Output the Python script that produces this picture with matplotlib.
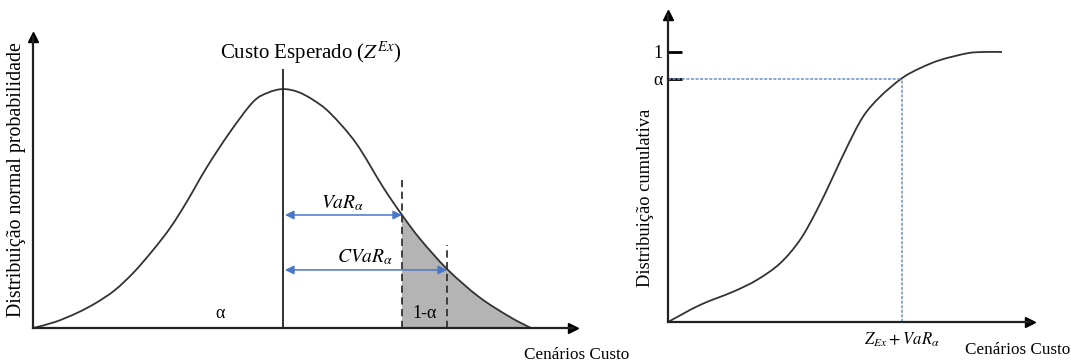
import matplotlib
matplotlib.use("Agg")
import matplotlib.pyplot as plt
from matplotlib.path import Path
from matplotlib.patches import PathPatch
import numpy as np

plt.rcParams['font.family'] = ['Liberation Serif', 'DejaVu Serif']
plt.rcParams['mathtext.fontset'] = 'stix'

W, H = 1071, 363

# ---- Left panel data (cost scenario x, normalised density y) ----
pdf_x = [0, 22, 44, 63, 82, 101, 120, 137, 153, 174, 197, 220, 235, 250, 265, 280,
         297, 323, 350, 369, 388, 415, 446, 477, 498]
pdf_y = [0.0, 0.025, 0.063, 0.105, 0.159, 0.234, 0.326, 0.418, 0.523, 0.674,
         0.820, 0.946, 0.985, 1.0, 0.988, 0.955, 0.900, 0.774, 0.590, 0.473,
         0.368, 0.243, 0.130, 0.046, 0.0]
mean_x = 250
var_x = 369
cvar_x = 414
var_y = 0.473
cvar_y = 0.243
var_line_top = 0.628
cvar_line_top = 0.347
mean_line_top = 1.084

# ---- Right panel data (cumulative distribution) ----
cdf_x = [0, 32, 65, 89, 112, 132, 149, 165, 179, 195, 212, 234, 252, 272, 299, 315, 334]
cdf_y = [0.0, 0.063, 0.112, 0.156, 0.217, 0.304, 0.415, 0.538, 0.648, 0.760,
         0.834, 0.903, 0.940, 0.970, 0.995, 1.0, 1.0]
alpha_level = 0.9
ytick_labels = ['α', '1']

fig = plt.figure(figsize=(W / 100, H / 100), dpi=100)


def smooth_path(xs, ys, closed_bottom=False):
    """Catmull-Rom curve through the read points, drawn as cubic Bezier segments."""
    p = np.column_stack([xs, ys]).astype(float)
    n = len(p)
    verts = [p[0]]
    codes = [Path.MOVETO]
    for i in range(n - 1):
        p0 = p[i - 1] if i > 0 else p[i]
        p1, p2 = p[i], p[i + 1]
        p3 = p[i + 2] if i + 2 < n else p[i + 1]
        c1 = p1 + (p2 - p0) / 6.0
        c2 = p2 - (p3 - p1) / 6.0
        verts += [c1, c2, p2]
        codes += [Path.CURVE4] * 3
    if closed_bottom:
        verts += [(xs[-1], 0), (xs[0], 0), (xs[0], 0)]
        codes += [Path.LINETO, Path.LINETO, Path.CLOSEPOLY]
    return Path(verts, codes)


def px_axes(x0, x1, ytop, ybot):
    return fig.add_axes([x0 / W, 1 - ybot / H, (x1 - x0) / W, (ybot - ytop) / H])


def style_axes(ax):
    for s in ['top', 'right']:
        ax.spines[s].set_visible(False)
    for s in ['left', 'bottom']:
        ax.spines[s].set_linewidth(1.6)
        ax.spines[s].set_color('#222222')
    ax.plot(1, 0, '>', color='black', ms=7, transform=ax.transAxes, clip_on=False)
    ax.plot(0, 1, '^', color='black', ms=7, transform=ax.transAxes, clip_on=False)
    ax.set_xticks([])


# Left axes
axL = px_axes(33, 573, 37, 328)
style_axes(axL)
axL.set_yticks([])
axL.set_xlim(0, 540)
axL.set_ylim(0, 1.218)
tx = [x for x in pdf_x if x >= var_x]
ty = [y for x, y in zip(pdf_x, pdf_y) if x >= var_x]
axL.add_patch(PathPatch(smooth_path(tx, ty, closed_bottom=True),
                        facecolor='#b4b4b4', edgecolor='none', lw=0))
axL.add_patch(PathPatch(smooth_path(pdf_x, pdf_y), facecolor='none',
                        edgecolor='#333333', lw=1.3, clip_on=False))
axL.vlines(mean_x, 0, mean_line_top, color='#222222', lw=1.3)
axL.vlines(var_x, 0, var_line_top, color='#333333', lw=1.3, linestyles=(0, (4, 2.5)))
axL.vlines(cvar_x, 0, cvar_line_top, color='#333333', lw=1.3, linestyles=(0, (4, 2.5)))
blue = '#4a78c8'
for xe, ye in [(var_x, var_y), (cvar_x, cvar_y)]:
    axL.annotate('', xy=(xe, ye), xytext=(mean_x + 2, ye),
                 arrowprops=dict(arrowstyle='<|-|>', color=blue, lw=1.1,
                                 mutation_scale=13, shrinkA=0, shrinkB=0))

# Right axes
axR = px_axes(668, 1030, 15, 322)
style_axes(axR)
axR.set_xlim(0, 362)
axR.set_ylim(0, 1.137)
axR.set_yticks([alpha_level, 1])
axR.set_yticklabels(ytick_labels, fontsize=13)
axR.tick_params(axis='y', direction='in', length=10, width=2, pad=4, colors='black')
axR.add_patch(PathPatch(smooth_path(cdf_x, cdf_y), facecolor='none',
                        edgecolor='#333333', lw=1.3))
lb = '#6a90d4'
var_pos = cdf_x[cdf_y.index(0.903)]
axR.hlines(alpha_level, 0, var_pos, color=lb, lw=1.1, linestyles=(0, (2, 1)))
axR.vlines(var_pos, 0, alpha_level, color=lb, lw=1.1, linestyles=(0, (2, 1)))


def ftext(x, y, s, **kw):
    kw.setdefault('ha', 'center')
    kw.setdefault('va', 'center')
    fig.text(x / W, 1 - y / H, s, **kw)


ftext(311, 53, r'Custo Esperado ($Z^{Ex}$)', fontsize=15)
ftext(17, 180, 'Distribuição normal probabilidade', fontsize=14.3, rotation=90)
ftext(343, 203, r'$VaR_{\alpha}$', fontsize=14)
ftext(365, 257, r'$CVaR_{\alpha}$', fontsize=14)
ftext(220, 313, 'α', fontsize=13)
ftext(425, 313, '1-α', fontsize=13)
ftext(577, 355, 'Cenários Custo', fontsize=12.3)
ftext(645, 198, 'Distribuição cumulativa', fontsize=13.2, rotation=90)
ftext(902, 340, r'$Z_{Ex} + VaR_{\alpha}$', fontsize=12)
ftext(1018, 350, 'Cenários Custo', fontsize=12.3)

fig.savefig('out.png', dpi=100)
